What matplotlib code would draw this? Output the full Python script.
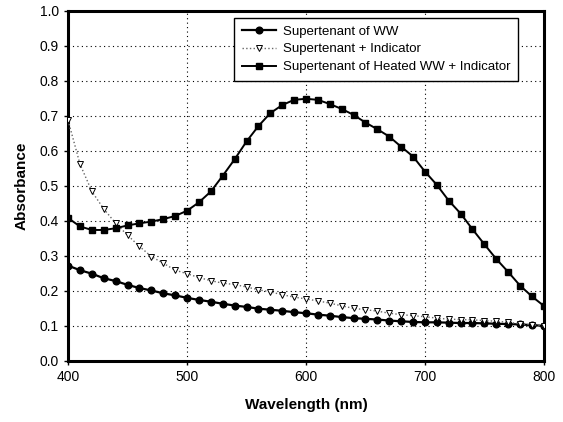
import matplotlib
matplotlib.use("Agg")
import matplotlib.pyplot as plt
import numpy as np

plt.rcParams['font.family'] = ['Liberation Sans', 'DejaVu Sans']

wavelength = list(range(400, 801, 10))

ww = [0.272, 0.259, 0.249, 0.236, 0.228, 0.217, 0.208, 0.201, 0.193, 0.187,
      0.180, 0.174, 0.169, 0.163, 0.158, 0.154, 0.149, 0.146, 0.143, 0.139,
      0.136, 0.132, 0.129, 0.125, 0.122, 0.120, 0.118, 0.115, 0.113, 0.111,
      0.110, 0.110, 0.109, 0.108, 0.108, 0.107, 0.106, 0.105, 0.104, 0.102,
      0.100]

indicator = [0.687, 0.562, 0.484, 0.434, 0.393, 0.359, 0.327, 0.298, 0.279, 0.259,
             0.249, 0.238, 0.229, 0.222, 0.218, 0.211, 0.203, 0.197, 0.189, 0.182,
             0.177, 0.171, 0.165, 0.157, 0.150, 0.146, 0.142, 0.136, 0.132, 0.129,
             0.126, 0.122, 0.119, 0.118, 0.117, 0.115, 0.113, 0.110, 0.106, 0.103,
             0.100]

heated = [0.408, 0.384, 0.374, 0.374, 0.379, 0.387, 0.393, 0.398, 0.405, 0.414,
          0.429, 0.453, 0.484, 0.529, 0.576, 0.627, 0.671, 0.708, 0.731, 0.746,
          0.749, 0.746, 0.734, 0.720, 0.703, 0.681, 0.662, 0.641, 0.612, 0.584,
          0.541, 0.503, 0.458, 0.421, 0.376, 0.333, 0.291, 0.254, 0.215, 0.184,
          0.157]

fig = plt.figure(figsize=(5.63, 4.22), dpi=100)
ax = fig.add_axes([0.121, 0.145, 0.845, 0.829])

ax.plot(wavelength, ww, color="black", lw=1.6, marker="o", ms=4.8,
        label="Supertenant of WW", zorder=3)
ax.plot(wavelength, indicator, color="#666666", lw=1.0, ls=":", marker="v", ms=4.8,
        mfc="white", mec="black", mew=0.7, label="Supertenant + Indicator", zorder=3)
ax.plot(wavelength, heated, color="black", lw=1.4, marker="s", ms=4.2,
        label="Supertenant of Heated WW + Indicator", zorder=3)

ax.set_xlim(400, 800)
ax.set_ylim(0, 1.0)
ax.set_xticks([400, 500, 600, 700, 800])
ax.set_yticks(np.arange(0, 1.01, 0.1))
ax.set_yticklabels(["%.1f" % v for v in np.arange(0, 1.01, 0.1)])
ax.grid(True, color="black", ls=(0, (1, 3)), lw=0.8)
ax.tick_params(labelsize=10, length=3, width=1, direction="out")

for s in ax.spines.values():
    s.set_linewidth(2.2)

ax.set_xlabel("Wavelength (nm)", fontsize=11, fontweight="bold", labelpad=10)
ax.set_ylabel("Absorbance", fontsize=11, fontweight="bold", labelpad=8)

leg = ax.legend(loc="upper right", bbox_to_anchor=(0.96, 1.0), fontsize=9.5,
                fancybox=False, framealpha=1, edgecolor="black",
                borderpad=0.6, labelspacing=0.42, handlelength=2.6,
                handletextpad=0.5)
leg.get_frame().set_linewidth(1.0)

fig.savefig("out.png", dpi=100)
